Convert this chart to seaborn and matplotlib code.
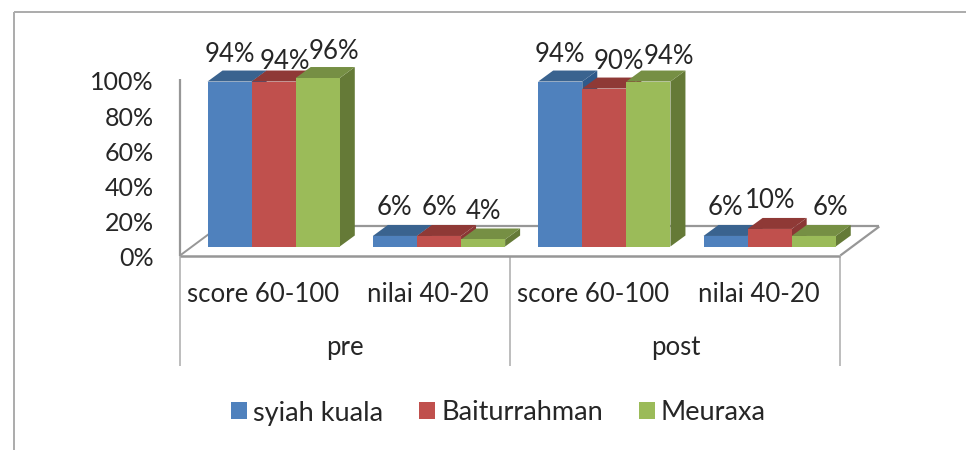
#!/usr/bin/env python
import pandas as pd
import matplotlib
matplotlib.use("Agg")
import matplotlib.pyplot as plt
import seaborn as sns
from matplotlib.lines import Line2D
from matplotlib.patches import Polygon
from matplotlib.transforms import IdentityTransform, ScaledTranslation

# data
bar_keys = ["pre score", "pre nilai", "post score", "post nilai"]
bar_labels = ["score 60-100", "nilai 40-20", "score 60-100", "nilai 40-20"]
group_labels = ["pre", "post"]
syiah_kuala = [94, 6, 94, 6]
baiturrahman = [94, 6, 90, 10]
meuraxa = [96, 4, 94, 6]
y_ticks = [0, 20, 40, 60, 80, 100]

series_names = ["syiah kuala", "Baiturrahman", "Meuraxa"]
front_colors = ["#4F81BD", "#C0504D", "#9BBB59"]
top_colors = ["#3A638F", "#8F3936", "#768F44"]
side_colors = ["#2F5A8A", "#8A3735", "#657A37"]

# hand placed value labels: (dx, dy) in pixels from the bar's top centre, one row per series
label_nudges = [
    [(0, 27), (0, 28), (0, 27), (0, 28)],
    [(11, 20), (0, 28), (15, 27), (0, 28)],
    [(16, 27), (0, 28), (20, 25), (17, 28)],
]

W, H = 966, 450
DPI = 100
DEPTH_X, DEPTH_Y = 15, 11
TEXT = "#262626"
GRID = "#979797"
FRAME = "#ABABAB"
FONT_SIZE = 18.5
LEGEND_SIZE = 19.5

sns.set_theme(style="white")
plt.rcParams["font.family"] = ["Lato", "DejaVu Sans"]


def fig_xy(x, y):
    """pixel position measured from the top left, as figure fraction"""
    return x / W, 1 - y / H


def rule(fig, x0, y0, x1, y1, color=GRID, lw=1.4, zorder=0):
    (fx0, fy0), (fx1, fy1) = fig_xy(x0, y0), fig_xy(x1, y1)
    fig.add_artist(Line2D([fx0, fx1], [fy0, fy1], color=color, lw=lw, zorder=zorder,
                          transform=fig.transFigure, solid_capstyle="butt"))


def main():
    df = pd.DataFrame({
        "bar": bar_keys * 3,
        "value": syiah_kuala + baiturrahman + meuraxa,
        "series": [name for name in series_names for _ in bar_keys],
    })

    fig = plt.figure(figsize=(W / DPI, H / DPI), dpi=DPI)
    left, right, top, bottom = 191, 852.3, 71, 246.5
    ax = fig.add_axes([left / W, 1 - bottom / H, (right - left) / W, (bottom - top) / H])
    ax.patch.set_alpha(0)

    sns.barplot(data=df, x="bar", y="value", hue="series", order=bar_keys,
                hue_order=series_names, palette=front_colors, saturation=1,
                linewidth=0, gap=0, ax=ax)
    ax.set_xlim(-0.5, 3.5)
    ax.set_ylim(0, 100)
    ax.set_xlabel("")
    ax.set_ylabel("")
    sns.despine(ax=ax, left=True, bottom=True)

    # 3d look: side and top faces worked out from each bar, left to right
    bars = []
    for s, container in enumerate(ax.containers):
        for c, bar in enumerate(container):
            bars.append((bar.get_x(), s, c, bar))
    bars.sort(key=lambda item: item[0])
    for order, (_, s, c, bar) in enumerate(bars):
        x0, y0 = ax.transData.transform((bar.get_x(), 0))
        x1, y1 = ax.transData.transform((bar.get_x() + bar.get_width(), bar.get_height()))
        side = [(x1, y0), (x1 + DEPTH_X, y0 + DEPTH_Y), (x1 + DEPTH_X, y1 + DEPTH_Y), (x1, y1)]
        lid = [(x0, y1), (x1, y1), (x1 + DEPTH_X, y1 + DEPTH_Y), (x0 + DEPTH_X, y1 + DEPTH_Y)]
        z = 3 + order * 0.1
        for points, color in ((side, side_colors[s]), (lid, top_colors[s])):
            ax.add_patch(Polygon(points, closed=True, facecolor=color, edgecolor="none",
                                 transform=IdentityTransform(), clip_on=False, zorder=z))
        bar.set_zorder(z + 0.01)
        bar.set_clip_on(False)

        dx, dy = label_nudges[s][c]
        ax.annotate(f"{bar.get_height():.0f}%",
                    (bar.get_x() + bar.get_width() / 2, bar.get_height()),
                    xytext=(dx, dy), textcoords="offset pixels", ha="center", va="center",
                    fontsize=FONT_SIZE, color=TEXT, zorder=20, annotation_clip=False)

    # tick labels sit on the front of the floor, not on the bar baseline
    ax.set_yticks(y_ticks, [f"{t}%" for t in y_ticks])
    ax.tick_params(axis="y", length=0, pad=27, labelsize=18, labelcolor=TEXT)
    down = ScaledTranslation(0, -10 / DPI, fig.dpi_scale_trans)
    for label in ax.get_yticklabels():
        label.set_transform(label.get_transform() + down)

    ax.set_xticks(range(len(bar_keys)), bar_labels)
    ax.tick_params(axis="x", length=0, pad=25.5, labelsize=FONT_SIZE, labelcolor=TEXT)
    shift = ScaledTranslation(-11 / DPI, 0, fig.dpi_scale_trans)
    for label in ax.get_xticklabels():
        label.set_transform(label.get_transform() + shift)

    for i, name in enumerate(group_labels):
        ax.annotate(name, (2 * i + 0.5, 0), xytext=(-11, -101), textcoords="offset pixels",
                    ha="center", va="center", fontsize=FONT_SIZE, color=TEXT, annotation_clip=False)

    # floor and walls
    fx0, fx1, fy = left - 11, right - 12, bottom + 9
    back_y = fy - 29
    rule(fig, fx0, fy, fx1, fy, lw=1.8, zorder=5)
    rule(fig, fx0, 79, fx0, fy, lw=1.6)
    rule(fig, fx0, fy, fx0 + 39, back_y)
    rule(fig, fx0 + 39, back_y, fx1 + 39, back_y, lw=1.6)
    rule(fig, fx1, fy, fx1 + 39, back_y, lw=1.6)
    for x in (fx0, (fx0 + fx1) / 2, fx1):
        rule(fig, x, fy, x, 366, color=FRAME, lw=1.1)

    # chart border, only top and left are inside the crop
    rule(fig, 14, 12, W, 12, color=FRAME, lw=1.4)
    rule(fig, 14, 12, 14, H, color=FRAME, lw=1.4)

    fx, fy_leg = fig_xy(498.5, 413)
    sns.move_legend(ax, "center", bbox_to_anchor=(fx, fy_leg), bbox_transform=fig.transFigure,
                    ncol=3, frameon=False, title=None, fontsize=LEGEND_SIZE, labelcolor=TEXT,
                    handlelength=0.59, handleheight=0.59, handletextpad=0.22,
                    columnspacing=1.33, borderpad=0, borderaxespad=0)

    fig.savefig("out.png", dpi=DPI, facecolor="white")


if __name__ == "__main__":
    main()
